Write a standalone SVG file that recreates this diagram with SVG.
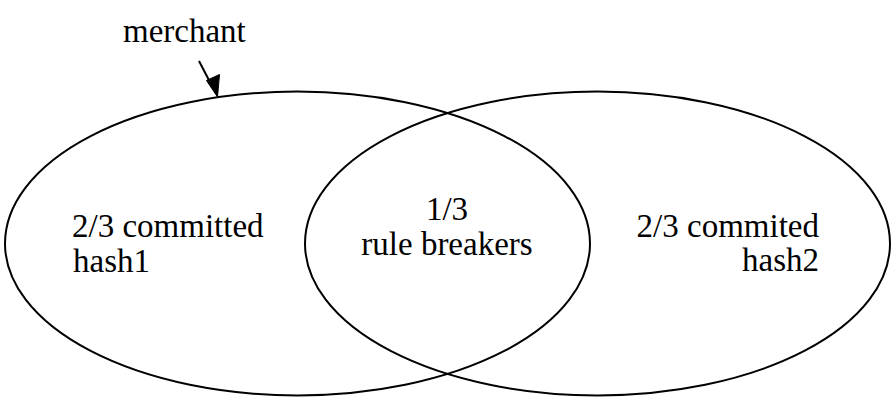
<svg xmlns="http://www.w3.org/2000/svg" width="896" height="402" viewBox="0 0 896 402">
<style>
.set{fill:none;stroke:#000;stroke-width:2}
.lbl{font-family:'Liberation Serif','Tinos','Times New Roman','DejaVu Serif',serif;font-size:33px;fill:#000}
.edge{stroke:#000;stroke-width:2;fill:none}
</style>
<rect width="896" height="402" fill="#fff"/>
<g id="set-hash1">
<ellipse class="set" cx="297.5" cy="243.5" rx="292.5" ry="152"/>
<text class="lbl" font-family="Liberation Serif, serif" x="72" y="237">2/3 committed</text>
<text class="lbl" font-family="Liberation Serif, serif" x="73" y="272">hash1</text>
</g>
<g id="set-hash2">
<ellipse class="set" cx="597.5" cy="243.5" rx="292.5" ry="152"/>
<text class="lbl" font-family="Liberation Serif, serif" x="819" y="237" text-anchor="end">2/3 commited</text>
<text class="lbl" font-family="Liberation Serif, serif" x="819" y="271" text-anchor="end">hash2</text>
</g>
<g id="intersection">
<text class="lbl" font-family="Liberation Serif, serif" x="447" y="220" text-anchor="middle">1/3</text>
<text class="lbl" font-family="Liberation Serif, serif" x="447" y="255" text-anchor="middle">rule breakers</text>
</g>
<g id="merchant">
<text class="lbl" font-family="Liberation Serif, serif" x="123" y="42">merchant</text>
</g>
<g id="connectors">
<path class="edge" d="M199,61 L212,86"/>
<path d="M217.5,97 L206.5,80.5 L219.5,74.5 z" fill="#000" stroke="#000" stroke-width="1"/>
</g>
</svg>
